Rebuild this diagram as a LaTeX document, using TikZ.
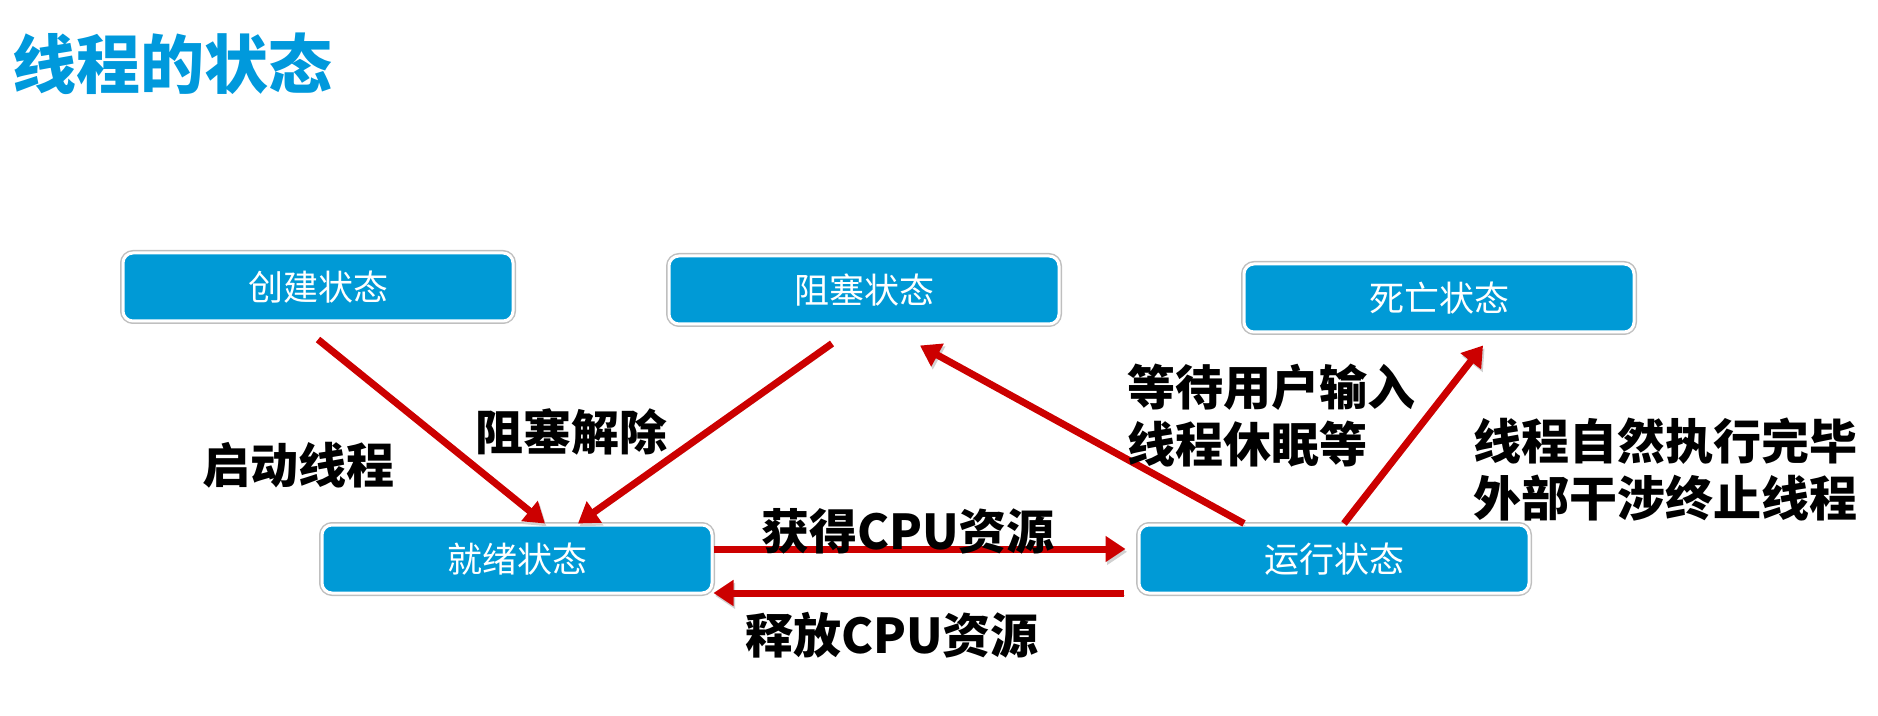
\documentclass[tikz,border=0pt]{standalone}
\usepackage{fontspec}
\setmainfont{Noto Sans CJK SC}
\usepackage{xcolor}
\usetikzlibrary{arrows.meta,positioning,shadows}
\definecolor{stateblue}{RGB}{0,154,214}
\definecolor{titleblue}{RGB}{0,153,220}
\definecolor{arrowred}{RGB}{204,0,0}

\begin{document}
\begin{tikzpicture}[x=0.5pt, y=-0.5pt,
  state/.style={draw=white, line width=1.5pt, rectangle, rounded corners=5pt, fill=stateblue, minimum width=195pt, minimum height=34pt, text=white, font=\fontsize{17.5}{20}\selectfont, preaction={draw=black!25, line width=3pt}, drop shadow={shadow xshift=0.8pt, shadow yshift=-1pt, fill=black!20}},
  arr/.style={-{Triangle[length=10pt, width=12.5pt]}, line width=3.5pt, arrowred, preaction={draw=black!18, transform canvas={shift={(0.8pt,-1.4pt)}}}},
  lbl/.style={font=\fontsize{24}{28.5}\selectfont\bfseries, align=left, inner sep=0pt}
]
\useasboundingbox (0,0) rectangle (1878,716);

\node[anchor=west, inner sep=0pt, text=titleblue, font=\fontsize{32}{36}\selectfont\bfseries] (title) at (12,64) {线程的状态};

% states
\node[state] (create) at (318,287) {创建状态};
\node[state] (block) at (864,290) {阻塞状态};
\node[state] (dead) at (1439,298) {死亡状态};
\node[state] (ready) at (517,559) {就绪状态};
\node[state, right=212pt of ready] (run) {运行状态};

% transitions
\draw[arr] ([yshift=-8.5pt]create.south) -- ([xshift=14pt]ready.north);
\draw[arr] ([xshift=-16pt, yshift=-9pt]block.south) -- ([xshift=30.5pt]ready.north);
\draw[arr] ([xshift=-45pt]run.north) -- ([xshift=28pt, yshift=-10pt]block.south);
\draw[arr] ([xshift=5pt]run.north) -- ([xshift=22pt, yshift=-6pt]dead.south);
\draw[arr, shorten >=6pt] ([yshift=5pt]ready.east) -- ([yshift=5pt]run.west);
\draw[arr, shorten <=7pt] ([yshift=-17pt]run.west) -- ([yshift=-17pt]ready.east);

% labels
\node[lbl] (launch) at (298,465) {启动线程};
\node[lbl] (unblock) at (571,432) {阻塞解除};
\node[lbl] (gain) at (908,531) {获得CPU资源};
\node[lbl] (release) at (892,635) {释放CPU资源};
\node[lbl, anchor=west] (wait) at (1127,416) {等待用户输入\\线程休眠等};
\node[lbl, anchor=west] (finish) at (1473,470) {线程自然执行完毕\\外部干涉终止线程};

\end{tikzpicture}
\end{document}
